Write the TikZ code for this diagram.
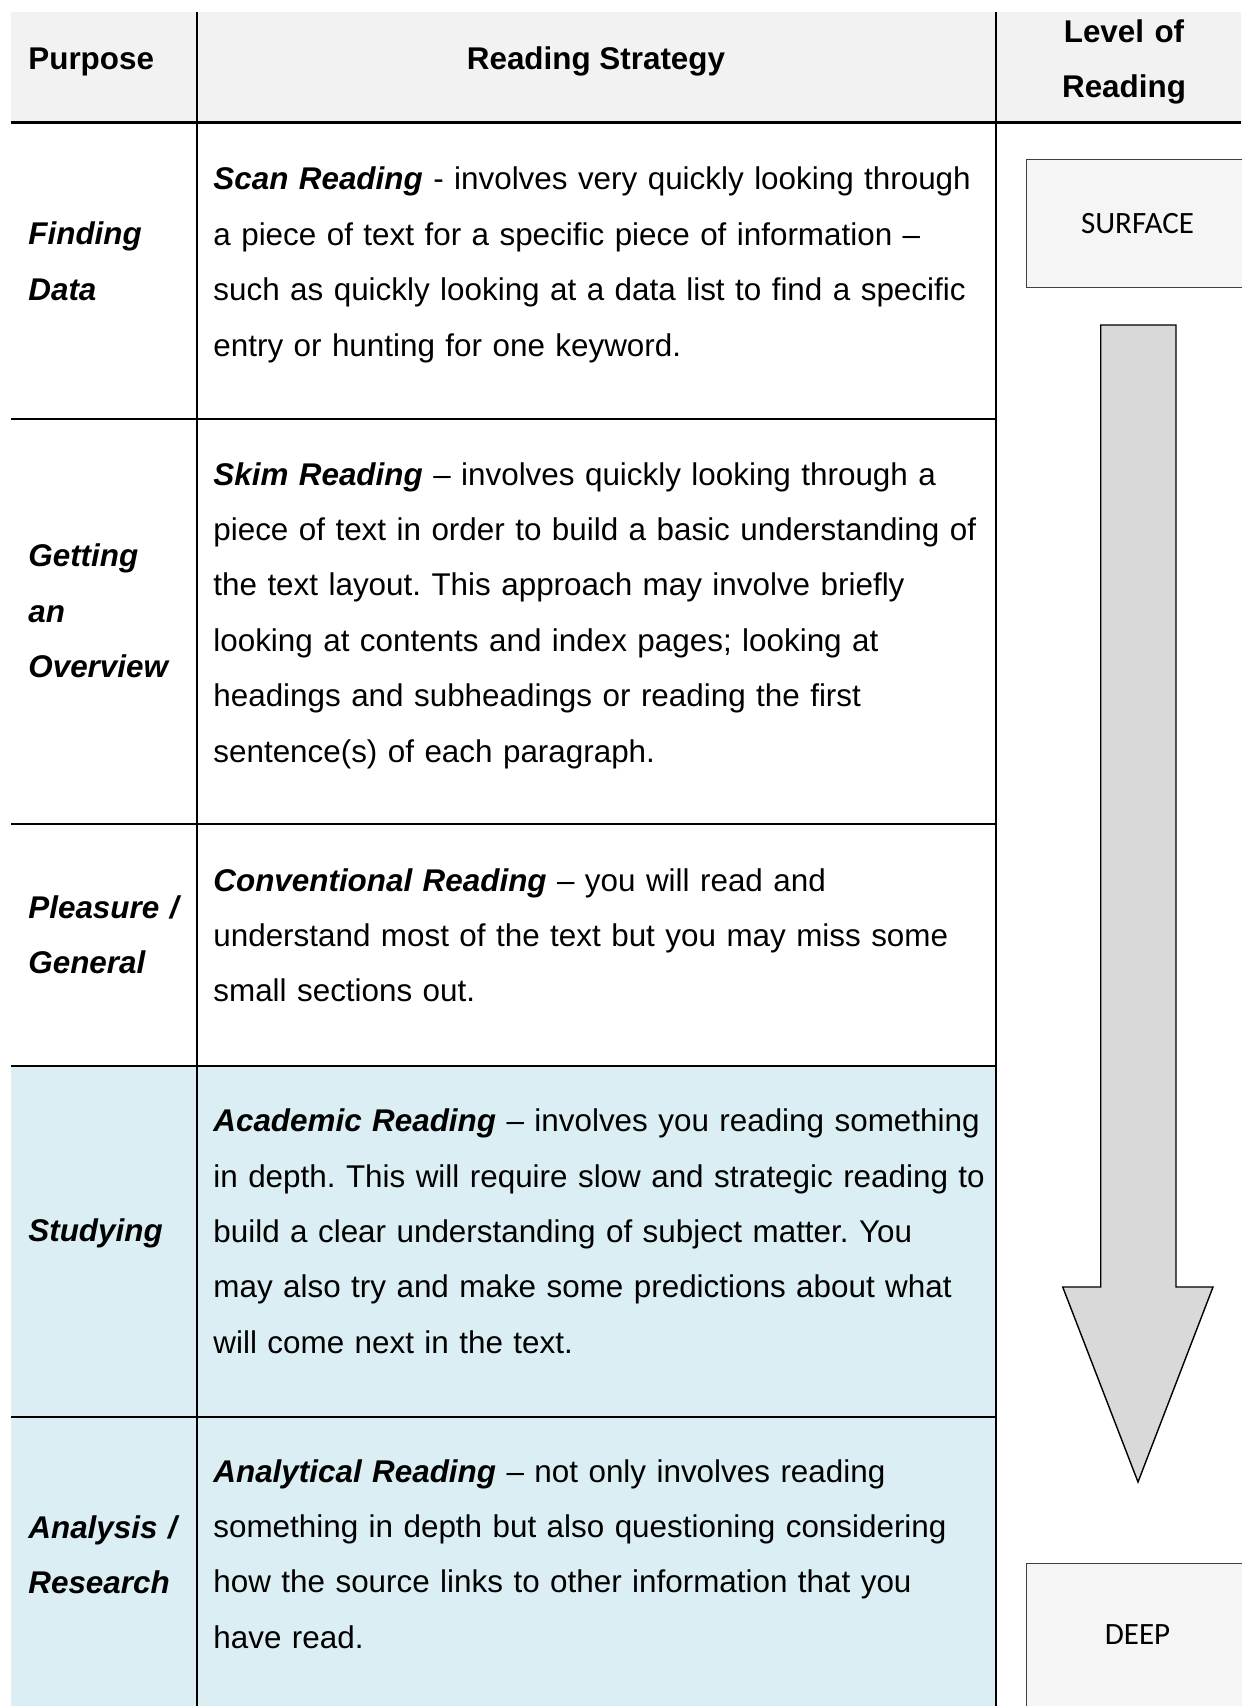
\documentclass[tikz,border=0pt]{standalone}
\usepackage{fontspec}
\setmainfont{Liberation Sans}
\newfontfamily\levelfont{Carlito}
\usetikzlibrary{positioning}

\definecolor{headgray}{HTML}{F2F2F2}
\definecolor{rowblue}{HTML}{DAEEF3}
\definecolor{boxgray}{HTML}{F5F5F5}
\definecolor{arrowgray}{HTML}{D9D9D9}

\begin{document}
\begin{tikzpicture}[
    x=0.5pt, y=-0.5pt,
    font=\fontsize{15.7}{27.7}\selectfont\frenchspacing,
    rule/.style={line width=1pt},
    headrule/.style={line width=1.4pt},
    cell/.style={inner sep=0pt, anchor=base west, align=left},
    purpose/.style={cell, text width=85pt, font=\fontsize{15.7}{27.7}\selectfont\bfseries\itshape},
    strategy/.style={cell, text width=400pt},
    level/.style={draw=black!75, fill=boxgray, line width=0.5pt, inner sep=0pt,
        minimum width=111.5pt, font=\levelfont\fontsize{15.5}{18}\selectfont}
]
    \useasboundingbox (0,0) rectangle (1241,1706);

    % --- Cell Backgrounds ---
    \fill[headgray] (11,12) rectangle (1241,122.7);
    \fill[rowblue] (11,1066) rectangle (996,1706);

    % --- Table Rules ---
    \draw[rule] (196.7,12) -- (196.7,1706);
    \draw[rule] (996,12) -- (996,1706);
    \draw[headrule] (11,122.7) -- (1241,122.7);
    \foreach \y in {418.5, 824.4, 1066, 1417}
        \draw[rule] (11,\y) -- (996,\y);

    % --- Header Row ---
    \node[cell, font=\fontsize{15.7}{27.7}\selectfont\bfseries] (hpurpose) at (28,70) {Purpose};
    \node[cell, anchor=base, font=\fontsize{15.7}{27.7}\selectfont\bfseries] (hstrategy) at (596,70) {Reading Strategy};
    \node[cell, anchor=base, align=center, text width=150pt, font=\fontsize{15.7}{27.7}\selectfont\bfseries] (hlevel) at (1124,42.3) {Level of\\Reading};

    % --- Purpose Column ---
    \node[purpose] (pfind) at (28,245) {Finding\\Data};
    \node[purpose] (pover) at (28,566.7) {Getting\\an\\Overview};
    \node[purpose] (pleas) at (28,918.5) {Pleasure /\\General};
    \node[purpose] (pstudy) at (28,1241) {Studying};
    \node[purpose] (panal) at (28,1538) {Analysis /\\Research};

    % --- Strategy Column ---
    \node[strategy] (sscan) at (213,190) {\textbf{\textit{Scan Reading}} - involves very quickly looking through\\
        a piece of text for a specific piece of information --\\
        such as quickly looking at a data list to find a specific\\
        entry or hunting for one keyword.};
    \node[strategy] (sskim) at (213,485) {\textbf{\textit{Skim Reading}} -- involves quickly looking through a\\
        piece of text in order to build a basic understanding of\\
        the text layout. This approach may involve briefly\\
        looking at contents and index pages; looking at\\
        headings and subheadings or reading the first\\
        sentence(s) of each paragraph.};
    \node[strategy] (sconv) at (213,891) {\textbf{\textit{Conventional Reading}} -- you will read and\\
        understand most of the text but you may miss some\\
        small sections out.};
    \node[strategy] (sacad) at (213,1131.7) {\textbf{\textit{Academic Reading}} -- involves you reading something\\
        in depth. This will require slow and strategic reading to\\
        build a clear understanding of subject matter. You\\
        may also try and make some predictions about what\\
        will come next in the text.};
    \node[strategy] (sanal) at (213,1482) {\textbf{\textit{Analytical Reading}} -- not only involves reading\\
        something in depth but also questioning considering\\
        how the source links to other information that you\\
        have read.};

    % --- Level of Reading ---
    \node[level, minimum height=64pt] (surface) at (1137.5,224) {SURFACE};
    \node[level, minimum height=72pt] (deep) at (1137.5,1635) {DEEP};

    % block arrow, surface to deep
    \draw[line width=0.7pt, fill=arrowgray, line join=miter]
        (1100.7,325) -- (1176,325) -- (1176,1287) -- (1213,1287) -- (1138,1482)
        -- (1062.7,1287) -- (1100.7,1287) -- cycle;

\end{tikzpicture}
\end{document}
